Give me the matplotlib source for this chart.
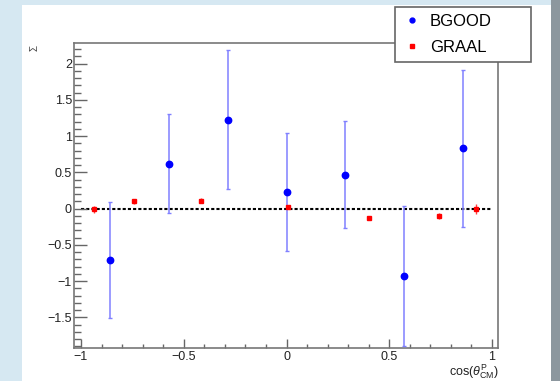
import matplotlib
matplotlib.use("Agg")
import matplotlib.pyplot as plt
from matplotlib.lines import Line2D
from matplotlib.patches import Rectangle
from matplotlib.ticker import MultipleLocator, FuncFormatter

plt.rcParams['font.family'] = ['Liberation Sans', 'DejaVu Sans']
plt.rcParams['mathtext.fontset'] = 'custom'
plt.rcParams['mathtext.rm'] = 'Liberation Sans'
plt.rcParams['mathtext.it'] = 'Liberation Sans:italic'

# BGOOD data
bgood_x = [-0.857, -0.571, -0.286, 0.0, 0.286, 0.571, 0.857]
bgood_y = [-0.71, 0.62, 1.23, 0.23, 0.47, -0.93, 0.835]
bgood_err = [0.80, 0.68, 0.96, 0.82, 0.74, 0.96, 1.085]

# GRAAL data
graal_x = [-0.937, -0.744, -0.414, 0.008, 0.403, 0.742, 0.922]
graal_y = [-0.01, 0.10, 0.11, 0.026, -0.127, -0.102, -0.008]
graal_err = [0.05, 0.03, 0.03, 0.03, 0.03, 0.04, 0.065]

W, H = 560, 381
fig = plt.figure(figsize=(W / 100, H / 100), dpi=100)
fig.patch.set_facecolor('#d6e8f2')
# white canvas and right strip
fig.patches.append(Rectangle((22 / W, 0), (551 - 22) / W, (H - 5) / H,
                             transform=fig.transFigure, facecolor='white',
                             edgecolor='none', zorder=-10))
fig.patches.append(Rectangle((551 / W, 0), 9 / W, 1,
                             transform=fig.transFigure, facecolor='#8c979e',
                             edgecolor='none', zorder=-10))

ax = fig.add_axes([74 / W, (H - 348) / H, (498 - 74) / W, (348 - 43) / H])
ax.set_xlim(-1.034, 1.029)
ax.set_ylim(-1.924, 2.286)

ax.hlines(0, -1, 1, colors='black', linestyles=(0, (1.5, 1.0)), lw=1.5, zorder=1)

ax.errorbar(bgood_x, bgood_y, yerr=bgood_err, fmt='o', color='blue', ms=4.6,
            ecolor='#8080ff', elinewidth=1.1, capsize=1.2, capthick=1, zorder=3)
ax.errorbar(graal_x, graal_y, yerr=graal_err, fmt='s', color='red', ms=3.3,
            ecolor='#ff4040', elinewidth=1, capsize=0, zorder=4)

fmt = FuncFormatter(lambda v, p: ('%g' % round(v, 3)).replace('-', '\u2212'))
ax.xaxis.set_major_locator(MultipleLocator(0.5))
ax.xaxis.set_minor_locator(MultipleLocator(0.1))
ax.yaxis.set_major_locator(MultipleLocator(0.5))
ax.yaxis.set_minor_locator(MultipleLocator(0.1))
ax.xaxis.set_major_formatter(fmt)
ax.yaxis.set_major_formatter(fmt)

ax.tick_params(axis='both', which='both', direction='in', colors='#666666',
               labelcolor='#222222', labelsize=9, top=False, right=False)
ax.tick_params(axis='y', which='major', length=9, width=1, pad=1.5)
ax.tick_params(axis='y', which='minor', length=4.7, width=1)
ax.tick_params(axis='x', which='major', length=6.5, width=1, pad=2.5)
ax.tick_params(axis='x', which='minor', length=3, width=1)
for s in ax.spines.values():
    s.set_color('#777777')
    s.set_linewidth(1.2)

fig.text(499 / W, 1 - 372 / H, r'cos($\theta^{\mathrm{P}}_{\mathrm{CM}}$)',
         ha='right', va='center', fontsize=9, color='#222222')
fig.text(34 / W, 1 - 48 / H, 'Σ', rotation=90, ha='center', va='center',
         fontsize=7, color='#444444')

handles = [Line2D([], [], marker='o', color='blue', ls='none', ms=3.5),
           Line2D([], [], marker='s', color='red', ls='none', ms=2.6)]
leg = fig.legend(handles, ['BGOOD', 'GRAAL'], loc='upper left',
                 bbox_to_anchor=(395 / W, (H - 64) / H, 136 / W, 57 / H),
                 mode='expand', fontsize=12, frameon=True, fancybox=False,
                 framealpha=1, edgecolor='#666666', borderpad=0.4,
                 labelspacing=0.68, handlelength=1.2, handletextpad=0.5,
                 borderaxespad=0)
leg.get_frame().set_linewidth(1.2)

fig.savefig('out.png', dpi=100, facecolor=fig.get_facecolor())
